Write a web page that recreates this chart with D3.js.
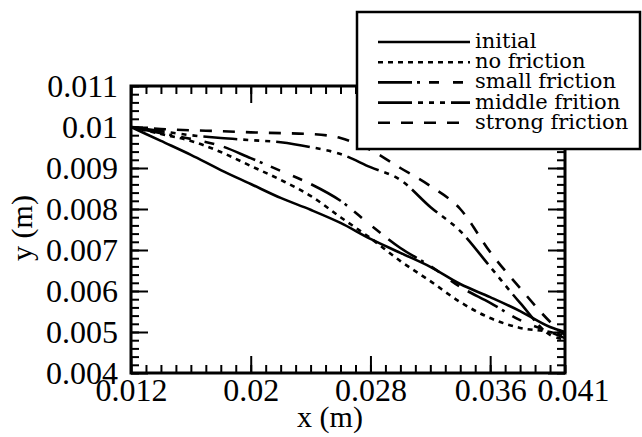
<!DOCTYPE html>
<html>
<head>
  <meta charset="UTF-8">
  <style>
    body { margin: 0; background: white; }
    .tick text { font-family: "Liberation Serif", "Times New Roman", serif; font-size: 32px; fill: black; }
    .axis-title { font-family: "Liberation Serif", "Times New Roman", serif; font-size: 30px; }
    .legend text { font-family: "DejaVu Serif", serif; font-size: 21px; }
  </style>
</head>
<body>
<svg></svg>
<script src="https://d3js.org/d3.v7.min.js"></script>
<script>

let width = 642, height = 437;

// x positions of the sampled profiles (m)
const xs = [0.012, 0.014, 0.016, 0.018, 0.020, 0.022, 0.024, 0.026, 0.028, 0.030, 0.032, 0.034, 0.036, 0.038, 0.040, 0.041];

// y values (m)
const initial       = [0.0100, 0.00966, 0.00932, 0.00895, 0.00861, 0.00827, 0.00798, 0.00766, 0.00727, 0.00693, 0.00659, 0.00617, 0.00585, 0.00551, 0.00512, 0.00500];
const noFriction    = [0.0100, 0.00983, 0.00966, 0.00939, 0.00905, 0.00871, 0.00832, 0.00780, 0.00729, 0.00673, 0.00624, 0.00573, 0.00534, 0.00510, 0.00500, 0.00490];
const smallFriction = [0.0100, 0.00985, 0.00971, 0.00954, 0.00924, 0.00893, 0.00861, 0.00820, 0.00761, 0.00705, 0.00661, 0.00610, 0.00571, 0.00529, 0.00500, 0.00485];
const middleFriction= [0.0100, 0.00990, 0.00980, 0.00973, 0.00968, 0.00963, 0.00951, 0.00934, 0.00902, 0.00871, 0.00805, 0.00746, 0.00659, 0.00571, 0.00493, 0.00482];
const strongFriction= [0.0100, 0.00995, 0.00992, 0.00990, 0.00987, 0.00985, 0.00983, 0.00973, 0.00944, 0.00900, 0.00856, 0.00800, 0.00695, 0.00607, 0.00525, 0.00492];

const seriesNames = ["initial", "no friction", "small friction", "middle frition", "strong friction"];
const seriesValues = [initial, noFriction, smallFriction, middleFriction, strongFriction];
const dashes = ["none", "5,5", "34,5,3,9,10,14,10,10", "34,6,5,6,5,6,5,6", "12,11"];

const xTicks = [0.012, 0.02, 0.028, 0.036, 0.041];
const yTicks = [0.004, 0.005, 0.006, 0.007, 0.008, 0.009, 0.01, 0.011];

let svg = d3.select("svg")
    .attr("width", width)
    .attr("height", height);

let x = d3.scaleLinear().domain([0.012, 0.041]).range([131, 565]);
let y = d3.scaleLinear().domain([0.004, 0.011]).range([373, 86]);

let xMinor = d3.range(0.012, 0.04105, 0.001);
let yMinor = d3.range(0.004, 0.01101, 0.0002);

function styleAxis(g) {
  g.select(".domain").remove();
  g.selectAll(".tick line").attr("stroke", "black").attr("stroke-width", 2);
}

// minor ticks, all pointing inside the frame
svg.append("g").attr("transform", "translate(0,373)")
  .call(d3.axisBottom(x).tickValues(xMinor).tickSize(-8).tickFormat(""))
  .call(styleAxis);
svg.append("g").attr("transform", "translate(0,86)")
  .call(d3.axisTop(x).tickValues(xMinor).tickSize(-8).tickFormat(""))
  .call(styleAxis);
svg.append("g").attr("transform", "translate(131,0)")
  .call(d3.axisLeft(y).tickValues(yMinor).tickSize(-8).tickFormat(""))
  .call(styleAxis);
svg.append("g").attr("transform", "translate(565,0)")
  .call(d3.axisRight(y).tickValues(yMinor).tickSize(-8).tickFormat(""))
  .call(styleAxis);

// major ticks with labels
let xAxis = svg.append("g").attr("transform", "translate(0,373)")
  .call(d3.axisBottom(x).tickValues(xTicks).tickSize(-17).tickPadding(5).tickFormat(d => String(+d.toFixed(3))))
  .call(styleAxis);
xAxis.selectAll(".tick").filter(d => d == 0.041).select("line").remove();
xAxis.selectAll(".tick").filter(d => d == 0.041).select("text").attr("dx", 8);

svg.append("g").attr("transform", "translate(0,86)")
  .call(d3.axisTop(x).tickValues(xTicks.slice(0, 4)).tickSize(-17).tickFormat(""))
  .call(styleAxis);

svg.append("g").attr("transform", "translate(131,0)")
  .call(d3.axisLeft(y).tickValues(yTicks).tickSize(-17).tickPadding(13).tickFormat(d => String(+d.toFixed(3))))
  .call(styleAxis);

svg.append("g").attr("transform", "translate(565,0)")
  .call(d3.axisRight(y).tickValues(yTicks).tickSize(-17).tickFormat(""))
  .call(styleAxis);

// frame
svg.append("rect")
  .attr("x", 131).attr("y", 86)
  .attr("width", 565 - 131).attr("height", 373 - 86)
  .attr("fill", "none")
  .attr("stroke", "black")
  .attr("stroke-width", 3);

// curves
let line = d3.line()
  .x(d => x(d[0]))
  .y(d => y(d[1]))
  .curve(d3.curveMonotoneX);

seriesValues.forEach((vals, i) => {
  svg.append("path")
    .datum(xs.map((v, j) => [v, vals[j]]))
    .attr("fill", "none")
    .attr("stroke", "black")
    .attr("stroke-width", 2.6)
    .attr("stroke-dasharray", dashes[i])
    .attr("d", line);
});

// axis titles
svg.append("text")
  .attr("class", "axis-title")
  .attr("x", 330).attr("y", 427)
  .attr("text-anchor", "middle")
  .text("x (m)");

svg.append("text")
  .attr("class", "axis-title")
  .attr("transform", "translate(32,228) rotate(-90)")
  .attr("text-anchor", "middle")
  .text("y (m)");

// legend box sits on top of the plot
let legend = svg.append("g").attr("class", "legend");

legend.append("rect")
  .attr("x", 357).attr("y", 12)
  .attr("width", 283).attr("height", 137)
  .attr("fill", "white")
  .attr("stroke", "black")
  .attr("stroke-width", 2.5);

seriesNames.forEach((name, i) => {
  let ly = 42 + i * 20.2;
  legend.append("line")
    .attr("x1", 378).attr("x2", 470)
    .attr("y1", ly).attr("y2", ly)
    .attr("stroke", "black")
    .attr("stroke-width", 2.6)
    .attr("stroke-dasharray", dashes[i]);
  legend.append("text")
    .attr("x", 475).attr("y", ly + 6)
    .text(name);
});

</script>
</body>
</html>
